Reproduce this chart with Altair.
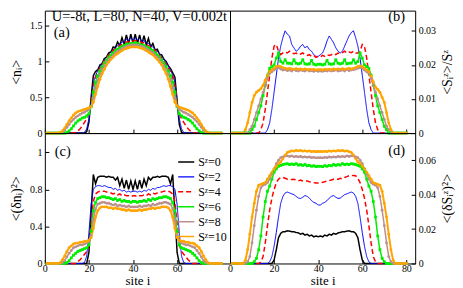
import altair as alt
import pandas as pd

FONT = "Liberation Serif"
SITES = list(range(1, 81))
LABELS = ["Sᶻ=0", "Sᶻ=2", "Sᶻ=4", "Sᶻ=6", "Sᶻ=8", "Sᶻ=10"]
COLORS = ["#000000", "#0000ff", "#ff0000", "#00ee00", "#bc8f8f", "#ffa500"]
WIDTHS = [1.5, 1.0, 1.5, 1.5, 1.5, 2.0]
DASHES = [[1, 0], [1, 0], [5, 3], [1, 0], [1, 0], [1, 0]]
MARKED = ["Sᶻ=6", "Sᶻ=8", "Sᶻ=10"]
SHAPES = ["square", "circle", "circle"]

# ---------------- panel (a): <n_i> ----------------
A0 = [0] * 18 + [0.02, 0.15, 0.5, 0.8, 0.86, 0.88, 0.95, 0.97, 1.04, 1.06, 1.12, 1.13, 1.2, 1.19, 1.27, 1.22,
                 1.33, 1.24, 1.37, 1.25, 1.38, 1.25, 1.38, 1.25, 1.37, 1.24, 1.36, 1.23, 1.32, 1.2, 1.25, 1.16,
                 1.17, 1.1, 1.09, 1.03, 1.0, 0.94, 0.9, 0.84, 0.78, 0.45, 0.12, 0.01] + [0] * 18
A1 = [0] * 17 + [0.01, 0.06, 0.2, 0.45, 0.7, 0.8, 0.87, 0.93, 0.98, 1.02, 1.06, 1.1, 1.13, 1.16, 1.19, 1.22,
                 1.24, 1.27, 1.27, 1.31, 1.29, 1.33, 1.3, 1.33, 1.3, 1.32, 1.28, 1.29, 1.26, 1.25, 1.22, 1.2,
                 1.17, 1.14, 1.11, 1.07, 1.03, 0.99, 0.94, 0.88, 0.81, 0.71, 0.46, 0.2, 0.06, 0.01] + [0] * 17
A2 = [0] * 13 + [0.01, 0.03, 0.06, 0.1, 0.15, 0.2, 0.28, 0.44, 0.65, 0.77, 0.85, 0.91, 0.96, 1.01, 1.05, 1.09,
                 1.12, 1.15, 1.18, 1.2, 1.22, 1.24, 1.25, 1.27, 1.27, 1.29, 1.28, 1.29, 1.28, 1.28, 1.26, 1.26,
                 1.24, 1.22, 1.2, 1.18, 1.15, 1.12, 1.09, 1.05, 1.01, 0.96, 0.91, 0.85, 0.77, 0.65, 0.44, 0.28,
                 0.2, 0.15, 0.1, 0.06, 0.03, 0.01] + [0] * 13
A3 = [0] * 9 + [0.01, 0.03, 0.06, 0.1, 0.14, 0.17, 0.19, 0.21, 0.22, 0.24, 0.27, 0.37, 0.57, 0.71, 0.8, 0.87,
                0.93, 0.98, 1.02, 1.06, 1.09, 1.12, 1.15, 1.17, 1.19, 1.21, 1.22, 1.24, 1.24, 1.25, 1.25, 1.26,
                1.25, 1.24, 1.23, 1.22, 1.2, 1.19, 1.17, 1.15, 1.12, 1.09, 1.06, 1.02, 0.98, 0.93, 0.87, 0.8,
                0.71, 0.57, 0.37, 0.27, 0.24, 0.22, 0.21, 0.19, 0.17, 0.14, 0.1, 0.06, 0.03, 0.01] + [0] * 9
A4 = [0] * 7 + [0.01, 0.04, 0.08, 0.12, 0.16, 0.19, 0.22, 0.24, 0.26, 0.28, 0.29, 0.31, 0.33, 0.37, 0.49, 0.63,
                0.74, 0.82, 0.89, 0.94, 0.99, 1.03, 1.06, 1.09, 1.12, 1.14, 1.16, 1.18, 1.2, 1.21, 1.22, 1.23,
                1.23, 1.23, 1.23, 1.22, 1.21, 1.2, 1.18, 1.16, 1.14, 1.12, 1.09, 1.06, 1.03, 0.99, 0.94, 0.89,
                0.82, 0.74, 0.63, 0.49, 0.37, 0.33, 0.31, 0.29, 0.28, 0.26, 0.24, 0.22, 0.19, 0.16, 0.12, 0.08,
                0.04, 0.01] + [0] * 7
A5 = [0] * 6 + [0.01, 0.03, 0.07, 0.12, 0.17, 0.21, 0.25, 0.28, 0.3, 0.31, 0.32, 0.33, 0.34, 0.35, 0.37, 0.43,
                0.54, 0.65, 0.75, 0.83, 0.89, 0.95, 0.99, 1.03, 1.06, 1.09, 1.11, 1.13, 1.15, 1.17, 1.18, 1.19,
                1.2, 1.2, 1.2, 1.2, 1.19, 1.18, 1.17, 1.15, 1.13, 1.11, 1.09, 1.06, 1.03, 0.99, 0.95, 0.89,
                0.83, 0.75, 0.65, 0.54, 0.43, 0.38, 0.36, 0.35, 0.34, 0.33, 0.32, 0.3, 0.28, 0.25, 0.21, 0.17,
                0.12, 0.07, 0.03, 0.01] + [0] * 6

# ---------------- panel (b): <S^z_i>/S^z (no S^z=0 curve) ----------------
B1 = [0] * 16 + [0.001, 0.003, 0.007, 0.012, 0.017, 0.022, 0.0255, 0.028, 0.030, 0.029, 0.0285, 0.026, 0.025,
                 0.024, 0.0245, 0.0255, 0.026, 0.025, 0.0255, 0.0245, 0.024, 0.023, 0.0225, 0.0225, 0.023,
                 0.0235, 0.025, 0.027, 0.0285, 0.0275, 0.0265, 0.025, 0.024, 0.0235, 0.024, 0.0255, 0.027,
                 0.0285, 0.0295, 0.030, 0.028, 0.0255, 0.022, 0.017, 0.012, 0.007, 0.003, 0.001] + [0] * 16
B2 = [0] * 13 + [0.001, 0.003, 0.007, 0.012, 0.017, 0.022, 0.0255, 0.026, 0.024, 0.023, 0.0235, 0.0238, 0.0235,
                 0.024, 0.0235, 0.0233, 0.0235, 0.023, 0.0232, 0.0235, 0.023, 0.0228, 0.023, 0.0225, 0.0228,
                 0.0222, 0.0225, 0.0224, 0.0228, 0.0225, 0.023, 0.0228, 0.023, 0.0233, 0.023, 0.0235, 0.0233,
                 0.0236, 0.024, 0.0235, 0.0238, 0.0236, 0.024, 0.0235, 0.0235, 0.024, 0.026, 0.0255, 0.022,
                 0.017, 0.012, 0.007, 0.003, 0.001] + [0] * 13
B3 = [0] * 9 + [0.001, 0.002, 0.004, 0.006, 0.008, 0.011, 0.014, 0.017, 0.019, 0.0195, 0.02, 0.022, 0.0235,
                0.021, 0.0205, 0.0215, 0.0205, 0.0205, 0.0203, 0.0215, 0.0205, 0.0203, 0.0205, 0.0215, 0.0203,
                0.0202, 0.0203, 0.0213, 0.0202, 0.02, 0.0202, 0.0202, 0.02, 0.0202, 0.0213, 0.0203, 0.0202,
                0.0203, 0.0215, 0.0205, 0.0203, 0.0205, 0.0215, 0.0203, 0.0205, 0.0205, 0.0215, 0.0205, 0.021,
                0.0235, 0.022, 0.02, 0.0195, 0.019, 0.017, 0.014, 0.011, 0.008, 0.006, 0.004, 0.002,
                0.001] + [0] * 9
B4 = [0] * 8 + [0.001, 0.002, 0.004, 0.006, 0.008, 0.01, 0.012, 0.014, 0.016, 0.0175, 0.018, 0.0185, 0.019,
                0.0192, 0.0188, 0.0185, 0.0186, 0.0183, 0.0185, 0.0182, 0.0186, 0.0183, 0.0182, 0.0185, 0.0183,
                0.0182, 0.0185, 0.0182, 0.0183, 0.0181, 0.0183, 0.0181, 0.0182, 0.0181, 0.0183, 0.0182, 0.0184,
                0.0182, 0.0183, 0.0185, 0.0182, 0.0183, 0.0185, 0.0182, 0.0186, 0.0183, 0.0185, 0.0186, 0.0188,
                0.019, 0.0192, 0.019, 0.0185, 0.018, 0.0175, 0.016, 0.014, 0.012, 0.01, 0.008, 0.006, 0.004,
                0.002, 0.001] + [0] * 8
B5 = [0] * 6 + [0.001, 0.003, 0.006, 0.009, 0.011, 0.012, 0.0125, 0.013, 0.014, 0.0155, 0.017, 0.018, 0.0185,
                0.019, 0.0195, 0.0197, 0.0195, 0.0192, 0.019, 0.0188, 0.019, 0.0188, 0.0187, 0.0189, 0.0187,
                0.0188, 0.0186, 0.0188, 0.0186, 0.0187, 0.0186, 0.0187, 0.0185, 0.0186, 0.0186, 0.0185, 0.0187,
                0.0186, 0.0187, 0.0186, 0.0188, 0.0186, 0.0188, 0.0187, 0.0189, 0.0187, 0.0188, 0.019, 0.0188,
                0.019, 0.0192, 0.0195, 0.0197, 0.0195, 0.019, 0.0185, 0.018, 0.0168, 0.015, 0.0135, 0.0128,
                0.012, 0.0105, 0.009, 0.006, 0.003, 0.001] + [0] * 7

# ---------------- panel (c): <(dn_i)^2> ----------------
C0 = [0] * 19 + [0.12, 0.55, 0.96, 0.86, 0.93, 0.94, 0.94, 0.94, 0.93, 0.94, 0.93, 0.93, 0.9, 0.93, 0.84, 0.91,
                 0.81, 0.9, 0.8, 0.89, 0.8, 0.89, 0.8, 0.9, 0.81, 0.91, 0.84, 0.93, 0.9, 0.93, 0.93, 0.94, 0.93,
                 0.94, 0.94, 0.94, 0.93, 0.86, 0.96, 0.55, 0.12] + [0] * 20
C1 = [0] * 17 + [0.01, 0.08, 0.33, 0.64, 0.8, 0.83, 0.84, 0.84, 0.83, 0.84, 0.83, 0.82, 0.82, 0.8, 0.81, 0.79,
                 0.8, 0.78, 0.79, 0.77, 0.78, 0.77, 0.78, 0.78, 0.77, 0.78, 0.77, 0.79, 0.78, 0.8, 0.79, 0.81,
                 0.8, 0.82, 0.82, 0.83, 0.84, 0.83, 0.84, 0.84, 0.83, 0.8, 0.64, 0.33, 0.08, 0.01] + [0] * 17
C2 = [0] * 14 + [0.02, 0.04, 0.07, 0.1, 0.13, 0.2, 0.43, 0.67, 0.75, 0.77, 0.78, 0.78, 0.78, 0.77, 0.77, 0.76,
                 0.75, 0.76, 0.74, 0.75, 0.73, 0.74, 0.73, 0.73, 0.72, 0.73, 0.73, 0.72, 0.73, 0.73, 0.74, 0.73,
                 0.75, 0.74, 0.76, 0.75, 0.76, 0.77, 0.77, 0.78, 0.78, 0.78, 0.77, 0.75, 0.67, 0.43, 0.2, 0.13,
                 0.1, 0.07, 0.04, 0.02] + [0] * 14
C3 = [0] * 9 + [0.01, 0.03, 0.06, 0.09, 0.11, 0.13, 0.14, 0.15, 0.16, 0.17, 0.2, 0.35, 0.57, 0.66, 0.7, 0.71,
                0.72, 0.72, 0.71, 0.71, 0.7, 0.69, 0.7, 0.68, 0.69, 0.67, 0.68, 0.67, 0.67, 0.66, 0.67, 0.67,
                0.66, 0.67, 0.67, 0.68, 0.67, 0.69, 0.68, 0.7, 0.69, 0.7, 0.71, 0.71, 0.72, 0.72, 0.71, 0.7,
                0.66, 0.57, 0.35, 0.2, 0.17, 0.16, 0.15, 0.14, 0.13, 0.11, 0.09, 0.06, 0.03, 0.01] + [0] * 9
C4 = [0] * 7 + [0.01, 0.03, 0.07, 0.11, 0.14, 0.17, 0.18, 0.19, 0.2, 0.2, 0.21, 0.22, 0.24, 0.3, 0.47, 0.59,
                0.64, 0.65, 0.66, 0.66, 0.65, 0.65, 0.64, 0.63, 0.64, 0.62, 0.63, 0.62, 0.62, 0.61, 0.62, 0.61,
                0.61, 0.61, 0.61, 0.62, 0.61, 0.62, 0.62, 0.63, 0.62, 0.64, 0.63, 0.64, 0.65, 0.65, 0.66, 0.66,
                0.65, 0.64, 0.59, 0.47, 0.3, 0.24, 0.22, 0.21, 0.2, 0.2, 0.19, 0.18, 0.17, 0.14, 0.11, 0.07,
                0.03, 0.01] + [0] * 7
C5 = [0] * 6 + [0.01, 0.04, 0.08, 0.13, 0.17, 0.19, 0.21, 0.22, 0.22, 0.23, 0.23, 0.24, 0.24, 0.25, 0.28, 0.38,
                0.5, 0.57, 0.6, 0.61, 0.61, 0.61, 0.6, 0.6, 0.59, 0.6, 0.59, 0.59, 0.58, 0.58, 0.57, 0.58,
                0.57, 0.57, 0.57, 0.57, 0.58, 0.57, 0.58, 0.58, 0.59, 0.59, 0.6, 0.59, 0.6, 0.6, 0.61, 0.61,
                0.61, 0.6, 0.57, 0.5, 0.38, 0.28, 0.25, 0.24, 0.24, 0.23, 0.23, 0.22, 0.22, 0.21, 0.19, 0.17,
                0.13, 0.08, 0.04, 0.01] + [0] * 6

# ---------------- panel (d): <(dS^z_i)^2> ----------------
D0 = [0] * 19 + [0.002, 0.008, 0.015, 0.0175, 0.0185, 0.0185, 0.019, 0.0188, 0.0185, 0.0185, 0.018, 0.0178,
                 0.017, 0.0175, 0.0165, 0.017, 0.016, 0.0165, 0.0155, 0.016, 0.0155, 0.016, 0.0155, 0.0165,
                 0.016, 0.017, 0.0165, 0.0175, 0.017, 0.0178, 0.018, 0.0185, 0.0185, 0.0188, 0.019, 0.0185,
                 0.0185, 0.0175, 0.015, 0.008, 0.002] + [0] * 20
D1 = [0] * 17 + [0.001, 0.004, 0.01, 0.018, 0.027, 0.035, 0.039, 0.041, 0.0415, 0.041, 0.0405, 0.04, 0.039,
                 0.038, 0.0378, 0.0385, 0.0395, 0.039, 0.038, 0.0365, 0.0355, 0.035, 0.034, 0.034, 0.035,
                 0.0355, 0.0365, 0.038, 0.039, 0.0395, 0.0385, 0.0378, 0.038, 0.039, 0.04, 0.0405, 0.041,
                 0.0415, 0.041, 0.039, 0.035, 0.027, 0.018, 0.01, 0.004, 0.001] + [0] * 17
D2 = [0] * 13 + [0.001, 0.004, 0.012, 0.022, 0.031, 0.038, 0.043, 0.047, 0.049, 0.05, 0.05, 0.0495, 0.049,
                 0.049, 0.0488, 0.049, 0.0485, 0.048, 0.0485, 0.048, 0.0478, 0.048, 0.0475, 0.0472, 0.047,
                 0.0468, 0.0468, 0.047, 0.0472, 0.0475, 0.048, 0.0482, 0.0485, 0.049, 0.0488, 0.049, 0.0495,
                 0.0492, 0.05, 0.0505, 0.051, 0.051, 0.0512, 0.051, 0.0495, 0.047, 0.043, 0.038, 0.031, 0.022,
                 0.012, 0.004, 0.001] + [0] * 14
D3 = [0] * 10 + [0.001, 0.003, 0.008, 0.016, 0.027, 0.036, 0.042, 0.045, 0.049, 0.053, 0.055, 0.0565, 0.057,
                 0.0575, 0.0578, 0.058, 0.0575, 0.0578, 0.0575, 0.058, 0.0572, 0.0575, 0.057, 0.0575, 0.0568,
                 0.057, 0.0565, 0.0568, 0.0563, 0.0565, 0.0565, 0.0563, 0.0568, 0.0565, 0.057, 0.0568, 0.0575,
                 0.057, 0.0575, 0.0572, 0.058, 0.0575, 0.0578, 0.0575, 0.058, 0.0578, 0.0575, 0.057, 0.0565,
                 0.055, 0.053, 0.049, 0.045, 0.042, 0.036, 0.027, 0.016, 0.008, 0.003, 0.001] + [0] * 10
D4 = [0] * 7 + [0.001, 0.004, 0.012, 0.022, 0.031, 0.039, 0.044, 0.0455, 0.046, 0.047, 0.049, 0.052, 0.055,
                0.058, 0.06, 0.0615, 0.062, 0.0625, 0.0625, 0.0622, 0.0625, 0.062, 0.0623, 0.062, 0.0622, 0.0618,
                0.062, 0.0617, 0.0619, 0.0615, 0.0617, 0.0614, 0.0615, 0.0615, 0.0614, 0.0617, 0.0615, 0.0619,
                0.0617, 0.062, 0.0618, 0.0622, 0.062, 0.0623, 0.062, 0.0625, 0.0622, 0.0625, 0.0625, 0.062,
                0.0615, 0.06, 0.058, 0.055, 0.052, 0.049, 0.047, 0.046, 0.0455, 0.044, 0.039, 0.031, 0.022,
                0.012, 0.004, 0.001] + [0] * 7
D5 = [0] * 6 + [0.002, 0.008, 0.017, 0.027, 0.035, 0.042, 0.0455, 0.046, 0.0465, 0.047, 0.049, 0.051, 0.053,
                0.055, 0.0565, 0.058, 0.059, 0.061, 0.063, 0.0645, 0.065, 0.0655, 0.0653, 0.0657, 0.0655, 0.0657,
                0.0653, 0.0655, 0.0652, 0.0654, 0.065, 0.0652, 0.065, 0.0651, 0.0651, 0.065, 0.0652, 0.065,
                0.0654, 0.0652, 0.0655, 0.0653, 0.0657, 0.0655, 0.0657, 0.0653, 0.0655, 0.065, 0.0645, 0.063,
                0.061, 0.059, 0.058, 0.0565, 0.055, 0.053, 0.051, 0.049, 0.047, 0.0465, 0.046, 0.0455, 0.042,
                0.035, 0.027, 0.017, 0.008, 0.002] + [0] * 6

X_TICKS_LEFT = [0, 20, 40, 60]
X_TICKS_RIGHT = [0, 20, 40, 60, 80]
Y_TICKS_A = [0, 0.5, 1, 1.5]
Y_TICKS_B = [0, 0.01, 0.02, 0.03]
Y_TICKS_C = [0, 0.4, 0.8, 1.2]
Y_TICKS_D = [0, 0.02, 0.04, 0.06]


def long_frame(series_list, labels):
    rows = []
    for lab, vals in zip(labels, series_list):
        assert len(vals) == 80, (lab, len(vals))
        w = WIDTHS[LABELS.index(lab)]
        for s, v in zip(SITES, vals):
            rows.append({"site": s, "value": v, "label": lab, "w": w})
    return pd.DataFrame(rows)


def tag(text, x, y, size=14.5):
    return alt.Chart(pd.DataFrame({"t": [text]})).mark_text(
        x=x, y=y, align="left", baseline="alphabetic", font=FONT, fontSize=size, color="black"
    ).encode(text="t:N")


def panel(series_list, labels, y_top, y_ticks, y_title, y_orient, x_ticks, show_x, height, with_legend, tags):
    df = long_frame(series_list, labels)
    x_kw = dict(values=x_ticks, labels=show_x, domain=False, grid=False, tickSize=4, tickColor="black",
                offset=-4, labelFlush=False, labelFont=FONT, labelFontSize=10, labelColor="black",
                labelPadding=0, titleFont=FONT, titleFontSize=13, titleFontWeight="normal",
                titleColor="black", titlePadding=1)
    if show_x:
        x_axis = alt.Axis(title="site i", **x_kw)
    else:
        x_axis = alt.Axis(title=None, **x_kw)
    y_axis = alt.Axis(values=y_ticks, orient=y_orient, title=y_title, format="~g", domain=False, grid=False,
                      tickSize=4, tickColor="black", offset=-4, labelFont=FONT, labelFontSize=10,
                      labelColor="black", labelPadding=3, titleFont=FONT, titleFontSize=14,
                      titleFontWeight="normal", titleColor="black", titleAngle=270,
                      titlePadding=(6 if y_orient == "left" else 19))
    x = alt.X("site:Q", scale=alt.Scale(domain=[0, 84], nice=False, zero=False), axis=x_axis)
    y = alt.Y("value:Q", scale=alt.Scale(domain=[0, y_top], nice=False, zero=False), axis=y_axis)
    if with_legend:
        leg = alt.Legend(orient="none", legendX=133, legendY=20, title=None, symbolType="stroke",
                         symbolSize=260, symbolStrokeWidth=1.5, labelFont=FONT, labelFontSize=12,
                         labelColor="black", rowPadding=0, labelOffset=3, padding=0)
    else:
        leg = None
    color = alt.Color("label:N", scale=alt.Scale(domain=LABELS, range=COLORS), legend=leg)
    dash = alt.StrokeDash("label:N", scale=alt.Scale(domain=LABELS, range=DASHES), legend=leg)
    lines = alt.Chart(df).mark_line().encode(
        x=x, y=y, color=color, strokeDash=dash,
        strokeWidth=alt.StrokeWidth("w:Q", scale=None),
        detail="label:N",
    )
    pts = alt.Chart(df[df["label"].isin(MARKED)]).mark_point(filled=True, size=8, opacity=1, strokeWidth=0).encode(
        x=alt.X("site:Q"), y=alt.Y("value:Q"),
        color=alt.Color("label:N", scale=alt.Scale(domain=LABELS, range=COLORS), legend=None),
        shape=alt.Shape("label:N", scale=alt.Scale(domain=MARKED, range=SHAPES), legend=None),
    )
    layers = [lines, pts] + [tag(*t) for t in tags]
    return alt.layer(*layers).properties(width=186, height=height)


pa = panel([A0, A1, A2, A3, A4, A5], LABELS, 1.708, Y_TICKS_A, "<nᵢ>", "left", X_TICKS_LEFT, False, 123, False,
           [("U=-8t, L=80, N=40, V=0.002t", 7, 10.5), ("(a)", 9, 26.5)])
pb = panel([B1, B2, B3, B4, B5], LABELS[1:], 0.03593, Y_TICKS_B, "<Sᵢᶻ>/Sᶻ", "right", X_TICKS_RIGHT, False, 123,
           False, [("(b)", 159, 10.5)])
pc = panel([C0, C1, C2, C3, C4, C5], LABELS, 1.407, Y_TICKS_C, "<(δnᵢ)²>", "left", X_TICKS_LEFT, True, 131, True,
           [("(c)", 10, 23.5)])
pd_ = panel([D0, D1, D2, D3, D4, D5], LABELS, 0.0758, Y_TICKS_D, "<(δSᵢᶻ)²>", "right", X_TICKS_RIGHT, True, 131,
            False, [("(d)", 159, 22)])

chart = alt.concat(pa, pb, pc, pd_, columns=2, spacing=0, bounds="flush").resolve_scale(
    color="independent", strokeDash="independent", shape="independent"
).resolve_legend(
    color="independent", strokeDash="independent", shape="independent"
).properties(padding=0).configure_view(stroke="black", strokeWidth=1)

chart.save("out.html", embed_options={"renderer": "svg", "actions": False})
